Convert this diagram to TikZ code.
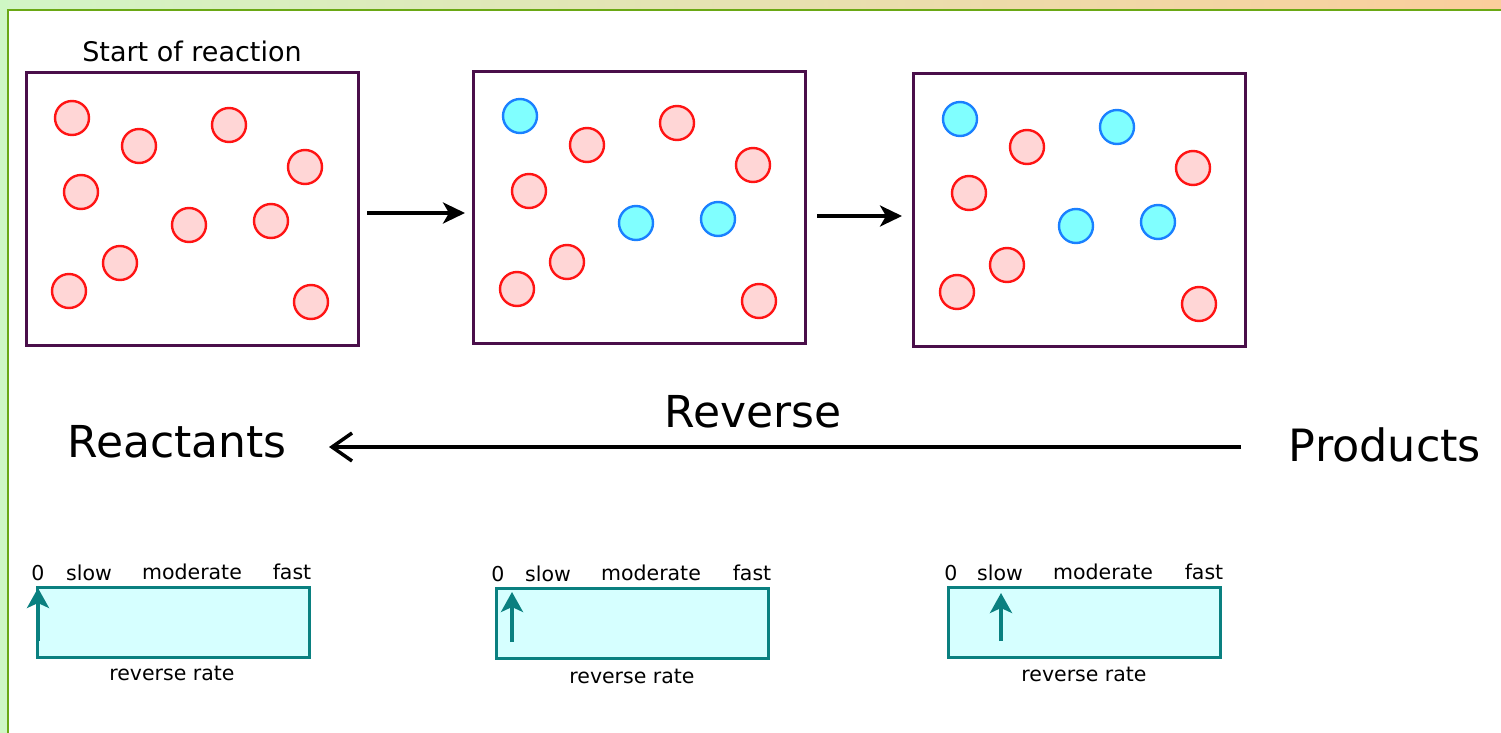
\documentclass[tikz,border=0pt]{standalone}
\usepackage{fontspec}
\setmainfont{DejaVu Sans}
\usetikzlibrary{arrows.meta}
\definecolor{ringred}{HTML}{FF1414}
\definecolor{pinkfill}{HTML}{FFD6D6}
\definecolor{ringblue}{HTML}{1A80FF}
\definecolor{cyanfill}{HTML}{80FFFF}
\definecolor{boxpurple}{HTML}{4A0F4A}
\definecolor{tealline}{HTML}{0A8080}
\definecolor{tealfill}{HTML}{D6FFFF}
\definecolor{topgreen}{HTML}{D2F5C6}
\definecolor{toporange}{HTML}{FBCE9C}
\definecolor{leftgreen}{HTML}{CFF7C4}
\definecolor{bordergreen}{HTML}{6AA814}
\tikzset{
  redmol/.style={circle, draw=ringred, fill=pinkfill, line width=2.4pt, minimum size=34pt, inner sep=0pt},
  bluemol/.style={circle, draw=ringblue, fill=cyanfill, line width=2.4pt, minimum size=34pt, inner sep=0pt},
  vessel/.style={rectangle, draw=boxpurple, line width=3pt, minimum width=332pt, minimum height=272pt, inner sep=0pt},
  ratebar/.style={rectangle, draw=tealline, fill=tealfill, line width=3pt, minimum width=272pt, minimum height=70pt, inner sep=0pt},
  big/.style={font=\fontsize{44}{50}\selectfont, inner sep=0pt},
  mid/.style={font=\fontsize{27}{32}\selectfont, inner sep=0pt, anchor=base},
  small/.style={font=\fontsize{20.5}{24}\selectfont, inner sep=0pt, anchor=base},
  steparrow/.style={line width=3.5pt, -{Stealth[length=22pt,width=21pt,inset=6pt]}},
  revarrow/.style={line width=3.5pt, -{Straight Barb[length=20pt,width=28pt,line width=3.5pt]}},
  needle/.style={tealline, line width=3.5pt, -{Stealth[length=20pt,width=22pt,inset=5pt]}}
}
\begin{document}
\begin{tikzpicture}[x=1pt,y=-1pt]
\useasboundingbox (0,0) rectangle (1501,733);
\fill[white] (0,0) rectangle (1501,733);
\shade[left color=topgreen, right color=toporange] (0,0) rectangle (1501,10);
\fill[leftgreen] (0,0) rectangle (8,733);
\draw[bordergreen, line width=2.5pt] (8,733) -- (8,10) -- (1501,10);

% vessels
\node[vessel] (b1) at (192,209) {};
\node[vessel] (b2) at (639.5,207.5) {};
\node[vessel] (b3) at (1079.5,210) {};
\node[mid] (start) at (192,62) {Start of reaction};

% box 1 molecules
\node[redmol] (a1) at (72,118) {};
\node[redmol] (a2) at (139,146) {};
\node[redmol] (a3) at (229,125) {};
\node[redmol] (a4) at (305,167) {};
\node[redmol] (a5) at (81,192) {};
\node[redmol] (a6) at (189,225) {};
\node[redmol] (a7) at (271,221) {};
\node[redmol] (a8) at (120,263) {};
\node[redmol] (a9) at (69,291) {};
\node[redmol] (a10) at (311,302) {};

% box 2 molecules
\node[bluemol] (c1) at (520,116) {};
\node[redmol] (c2) at (587,145) {};
\node[redmol] (c3) at (677,123) {};
\node[redmol] (c4) at (753,165) {};
\node[redmol] (c5) at (529,191) {};
\node[bluemol] (c6) at (636,223) {};
\node[bluemol] (c7) at (718,219) {};
\node[redmol] (c8) at (567,262) {};
\node[redmol] (c9) at (517,289) {};
\node[redmol] (c10) at (759,301) {};

% box 3 molecules
\node[bluemol] (d1) at (960,119) {};
\node[redmol] (d2) at (1027,147) {};
\node[bluemol] (d3) at (1117,127) {};
\node[redmol] (d4) at (1193,168) {};
\node[redmol] (d5) at (969,193) {};
\node[bluemol] (d6) at (1076,226) {};
\node[bluemol] (d7) at (1158,222) {};
\node[redmol] (d8) at (1007,265) {};
\node[redmol] (d9) at (957,292) {};
\node[redmol] (d10) at (1199,304) {};

% step arrows
\coordinate (s1a) at (367,213);
\coordinate (s1b) at (465,213);
\coordinate (s2a) at (817,216);
\coordinate (s2b) at (902,216);
\draw[steparrow] (s1a) -- (s1b);
\draw[steparrow] (s2a) -- (s2b);

% reverse
\node[big, anchor=base] (react) at (177,457) {Reactants};
\node[big, anchor=base, font=\fontsize{44.5}{50}\selectfont] (prod) at (1385,461) {Products};
\node[big, anchor=base] (rev) at (753,427) {Reverse};
\coordinate (ra) at (1241,447);
\coordinate (rb) at (329,447);
\draw[revarrow] (ra) -- (rb);

% rate bars
\node[ratebar] (r1) at (173,622) {};
\node[ratebar] (r2) at (632,623) {};
\node[ratebar] (r3) at (1084,622) {};

\node[small] (z1) at (38,580) {0};
\node[small] (sl1) at (89,580) {slow};
\node[small] (mo1) at (192,579) {moderate};
\node[small] (fa1) at (292,579) {fast};
\node[small] (rr1) at (172,680) {reverse rate};

\node[small] (z2) at (498,581) {0};
\node[small] (sl2) at (548,581) {slow};
\node[small] (mo2) at (651,580) {moderate};
\node[small] (fa2) at (752,580) {fast};
\node[small] (rr2) at (632,683) {reverse rate};

\node[small] (z3) at (951,580) {0};
\node[small] (sl3) at (1000,580) {slow};
\node[small] (mo3) at (1103,579) {moderate};
\node[small] (fa3) at (1204,579) {fast};
\node[small] (rr3) at (1084,681) {reverse rate};

\coordinate (n1a) at (38,641);
\coordinate (n1b) at (38,588);
\coordinate (n2a) at (512,642);
\coordinate (n2b) at (512,592);
\coordinate (n3a) at (1001,641);
\coordinate (n3b) at (1001,593);
\draw[needle] (n1a) -- (n1b);
\draw[needle] (n2a) -- (n2b);
\draw[needle] (n3a) -- (n3b);
\end{tikzpicture}
\end{document}
